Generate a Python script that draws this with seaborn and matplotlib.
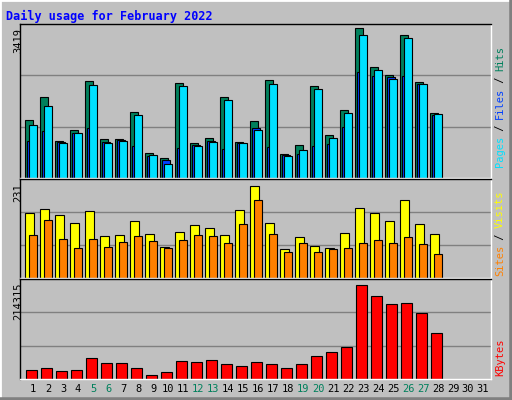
import numpy as np
import matplotlib
matplotlib.use("Agg")
import matplotlib.pyplot as plt
import seaborn as sns

days = np.arange(1, 29)
hits = [1327,1860,841,1096,2207,888,888,1513,563,448,2161,795,911,1860,818,1304,2230,540,749,2091,980,1559,3419,2531,2346,3257,2184,1490]
files = [849,1081,818,1026,1142,818,864,725,494,401,679,749,841,656,795,1142,702,517,540,725,772,1165,2416,2323,2300,2323,2138,1443]
pages = [1212,1652,795,1026,2115,795,841,1443,517,309,2092,725,818,1791,795,1096,2138,494,633,2045,911,1490,3257,2462,2254,3203,2138,1466]
visits = [163,173,158,138,168,106,108,143,111,78,116,133,126,108,171,231,138,73,103,81,76,113,176,163,143,196,136,111]
sites = [108,146,98,76,98,78,91,106,93,76,96,108,106,88,136,196,111,66,88,66,73,76,88,96,88,103,86,61]
kbytes = [19555,24248,17208,19555,47714,35981,35981,24248,10169,14862,40674,38328,43021,33635,28941,38328,33635,24248,33635,52407,61794,73527,214315,188509,172084,174431,150965,104033]
day_labels = [str(d) for d in range(1, 32)]
weekends = [5,6,12,13,19,20,26,27]

BG = "#C0C0C0"
sns.set_theme(style="white")
plt.rcParams['font.family'] = ['DejaVu Sans Mono', 'DejaVu Sans']

W, H = 512, 400
fig = plt.figure(figsize=(W/100, H/100), dpi=100, facecolor=BG)

def px_axes(x0, y0, x1, y1):
    return fig.add_axes([x0/W, 1-y1/H, (x1-x0)/W, (y1-y0)/H])

XL = (0.133, 31.53)

def style(ax, top):
    ax.set_facecolor(BG)
    ax.set_xlim(*XL)
    ax.set_ylim(0, top)
    for g in (top/3, 2*top/3):
        ax.axhline(g, color="#808080", lw=1, zorder=0)
    ax.set_xticks([]); ax.set_yticks([])
    ax.set_xlabel(""); ax.set_ylabel("")
    for s in ("top", "left"):
        ax.spines[s].set_color("black")
    for s in ("bottom", "right"):
        ax.spines[s].set_color("white")
    for s in ax.spines.values():
        s.set_linewidth(1)

def bars(ax, vals, off, w, color):
    sns.barplot(x=days + off, y=vals, native_scale=True, width=w, color=color,
                edgecolor="black", linewidth=0.8, saturation=1, ax=ax, zorder=2)

ax1 = px_axes(20, 24, 491, 178)
bars(ax1, hits, -0.27, 0.5, "#00805C")
bars(ax1, files, -0.13, 0.5, "#0040FF")
bars(ax1, pages, 0.0, 0.5, "#00E0FF")
style(ax1, 3519)

ax2 = px_axes(20, 179, 491, 278)
bars(ax2, visits, -0.23, 0.55, "#FFFF00")
bars(ax2, sites, 0.0, 0.5, "#FF8000")
style(ax2, 248)

ax3 = px_axes(20, 279, 491, 379)
bars(ax3, kbytes, -0.1, 0.7, "#FF0000")
style(ax3, 228400)

def ftxt(x, y, s, **kw):
    fig.text(x/W, 1-y/H, s, **kw)

ftxt(6, 20, "Daily usage for February 2022", color="#0000FF", fontsize=8.5, fontweight="bold")
fs = 7.5
ftxt(18, 28, "3419", rotation=90, va="top", ha="center", fontsize=fs, color="black")
ftxt(18, 183, "231", rotation=90, va="top", ha="center", fontsize=fs, color="black")
ftxt(18, 283, "214315", rotation=90, va="top", ha="center", fontsize=fs, color="black")

def vlabel(x, ybottom, parts):
    y = ybottom
    for s, c in parts:
        ftxt(x, y, s, rotation=90, va="bottom", ha="center", fontsize=fs, color=c)
        y -= 6.0 * len(s)

vlabel(500, 167, [("Pages", "#00E0FF"), (" / ", "black"), ("Files", "#0040FF"), (" / ", "black"), ("Hits", "#00805C")])
vlabel(500, 276, [("Sites", "#FF8000"), (" / ", "black"), ("Visits", "#FFFF00")])
vlabel(500, 376, [("KBytes", "#FF0000")])

for i, lab in enumerate(day_labels):
    d = i + 1
    x = 20 + (d - XL[0]) / (XL[1] - XL[0]) * 471
    ftxt(x, 392, lab, ha="center", fontsize=fs, color="#00805C" if d in weekends else "black")

# bevel border
from matplotlib.lines import Line2D
fig.add_artist(Line2D([0, 0, 1], [0, 1, 1], transform=fig.transFigure, color="white", lw=2))
fig.add_artist(Line2D([0, 1, 1], [0, 0, 1], transform=fig.transFigure, color="#808080", lw=4))

fig.savefig("out.png", dpi=100, facecolor=BG)
